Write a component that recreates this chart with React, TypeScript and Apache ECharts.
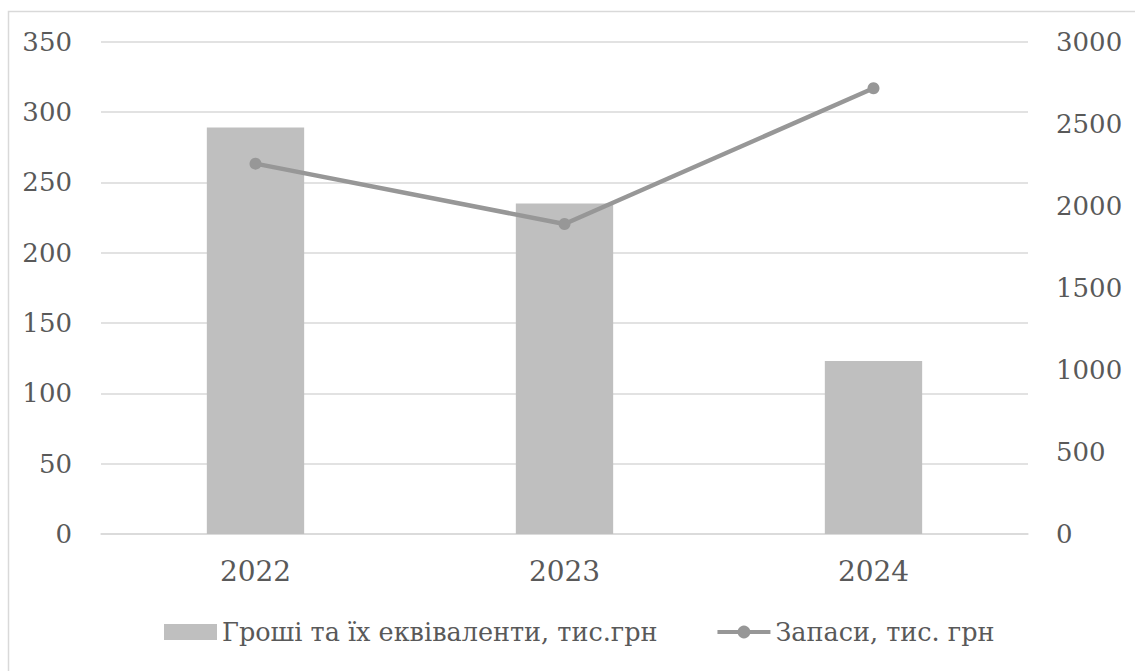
import React, { useEffect, useRef } from "react";
import * as echarts from "echarts";

const categories = ["2022", "2023", "2024"];
const cashValues = [289, 235, 123];
const inventoryValues = [2257, 1889, 2716];
const barName = "Гроші та їх еквіваленти, тис.грн";
const lineName = "Запаси, тис. грн";

const FONT = "DejaVu Serif";
const TEXT = "#595959";

export default function App() {
  const ref = useRef<HTMLDivElement>(null);
  useEffect(() => {
    if (!ref.current) return;
    const chart = echarts.init(ref.current, null, { renderer: "svg" });
    chart.setOption({
      animation: false,
      backgroundColor: "#ffffff",
      textStyle: { fontFamily: FONT, color: TEXT },
      graphic: [
        {
          type: "rect",
          shape: { x: 8.5, y: 11.5, width: 1200, height: 700 },
          style: { fill: "none", stroke: "#d9d9d9", lineWidth: 1.5 },
          silent: true,
        },
      ],
      grid: { left: 101, right: 107, top: 41.7, bottom: 137 },
      legend: {
        left: 164,
        top: 619,
        padding: 0,
        itemWidth: 53,
        itemHeight: 16,
        itemGap: 58,
        lineStyle: { width: 4 },
        textStyle: { fontFamily: FONT, fontSize: 25.5, color: TEXT },
        data: [
          { name: barName, icon: "rect" },
          { name: lineName },
        ],
      },
      xAxis: {
        type: "category",
        data: categories,
        axisLine: { show: true, lineStyle: { color: "#d9d9d9", width: 1.5 } },
        axisTick: { show: false },
        axisLabel: { fontFamily: FONT, fontSize: 28, color: TEXT, margin: 20, lineHeight: 34 },
      },
      yAxis: [
        {
          type: "value",
          min: 0,
          max: 350,
          interval: 50,
          axisLine: { show: false },
          axisTick: { show: false },
          splitLine: { lineStyle: { color: "#d9d9d9", width: 1.5 } },
          axisLabel: { fontFamily: FONT, fontSize: 26, color: TEXT, margin: 29 },
        },
        {
          type: "value",
          min: 0,
          max: 3000,
          interval: 500,
          position: "right",
          axisLine: { show: false },
          axisTick: { show: false },
          splitLine: { show: false },
          axisLabel: {
            fontFamily: FONT,
            fontSize: 26,
            color: TEXT,
            margin: 28,
            formatter: (v: number) => String(v),
          },
        },
      ],
      series: [
        {
          name: barName,
          type: "bar",
          data: cashValues,
          barWidth: "31.5%",
          itemStyle: { color: "#bfbfbf" },
          yAxisIndex: 0,
        },
        {
          name: lineName,
          type: "line",
          yAxisIndex: 1,
          data: inventoryValues,
          symbol: "circle",
          symbolSize: 12,
          lineStyle: { color: "#979797", width: 4.5 },
          itemStyle: { color: "#979797" },
        },
      ],
    });
    return () => chart.dispose();
  }, []);
  return (
    <div
      ref={ref}
      style={{ position: "absolute", left: 0, top: 0, width: 1135, height: 671 }}
    />
  );
}
